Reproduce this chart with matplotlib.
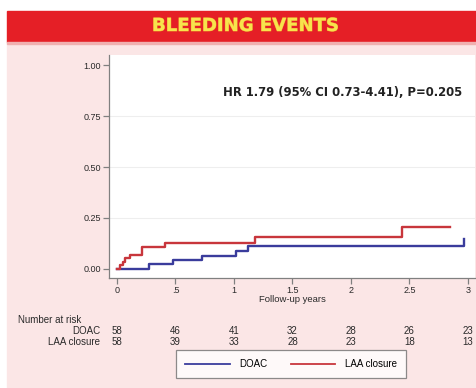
import matplotlib.pyplot as plt
import matplotlib.patheffects as pe
from matplotlib.patches import Rectangle
from matplotlib.lines import Line2D
from matplotlib.transforms import blended_transform_factory

# Kaplan-Meier style cumulative incidence
doac_t = [0, 0.27, 0.48, 0.73, 1.02, 1.12, 2.97]
doac_y = [0, 0.022, 0.044, 0.065, 0.088, 0.112, 0.145]
laa_t = [0, 0.03, 0.05, 0.07, 0.11, 0.21, 0.41, 1.18, 2.44, 2.85]
laa_y = [0, 0.018, 0.035, 0.052, 0.07, 0.105, 0.128, 0.157, 0.203, 0.203]

risk_times = [0, 0.5, 1, 1.5, 2, 2.5, 3]
risk_doac = [58, 46, 41, 32, 28, 26, 23]
risk_laa = [58, 39, 33, 28, 23, 18, 13]

xticks = [0, 0.5, 1, 1.5, 2, 2.5, 3]
xtick_labels = ["0", ".5", "1", "1.5", "2", "2.5", "3"]
yticks = [0, 0.25, 0.5, 0.75, 1.0]
ytick_labels = ["0.00", "0.25", "0.50", "0.75", "1.00"]

blue = "#3a3c9c"
red = "#c8363c"
pink = "#fbe6e6"
txt = "#2a2a2a"

W, H = 477, 388
fig = plt.figure(figsize=(W / 100, H / 100), dpi=100)
fig.patch.set_facecolor("white")

# pink panel and red banner
fig.patches.append(Rectangle((7 / W, 0), 468 / W, 1 - 42 / H,
                             transform=fig.transFigure, color=pink, zorder=-3))
fig.patches.append(Rectangle((7 / W, 1 - 42 / H), 470 / W, 31 / H,
                             transform=fig.transFigure, color="#e51f26", zorder=-2))
fig.patches.append(Rectangle((7 / W, 1 - 44 / H), 470 / W, 2 / H,
                             transform=fig.transFigure, color="#f0b0b0", zorder=-2))
title = fig.text(245 / W, 1 - 26 / H, "BLEEDING EVENTS", ha="center", va="center",
                 fontsize=13, fontweight="bold", color="#f7e44c", family="DejaVu Sans")
title.set_path_effects([pe.withStroke(linewidth=0.6, foreground="#eea030")])

ax = fig.add_axes([109 / W, 1 - 278 / H, 366 / W, 223 / H])
ax.set_zorder(2)
ax.set_facecolor("white")

ax.step(doac_t, doac_y, where="post", color=blue, lw=1.7)
ax.step(laa_t, laa_y, where="post", color=red, lw=1.7)

ax.set_xlim(-0.068, 3.06)
ax.set_ylim(-0.045, 1.05)
ax.set_xticks(xticks)
ax.set_xticklabels(xtick_labels)
ax.set_yticks(yticks)
ax.set_yticklabels(ytick_labels)
for y in [0.25, 0.5, 0.75]:
    ax.axhline(y, color="#eeeeee", lw=0.8, zorder=0)

for s in ["top", "right"]:
    ax.spines[s].set_visible(False)
for s in ["left", "bottom"]:
    ax.spines[s].set_color("#808080")
    ax.spines[s].set_linewidth(0.9)
ax.tick_params(colors="#808080", labelcolor=txt, labelsize=6.5, length=4, width=0.9, pad=2)
for lab in ax.get_xticklabels() + ax.get_yticklabels():
    lab.set_family("Liberation Sans")

ax.set_xlabel("Follow-up years", fontsize=6.8, color=txt, family="Liberation Sans", labelpad=0)

ax.text(0.964, 0.834, "HR 1.79 (95% CI 0.73-4.41), P=0.205", transform=ax.transAxes,
        ha="right", va="center", fontsize=8.4, fontweight="bold", color="#222222",
        family="DejaVu Sans")

# number at risk table
tr = blended_transform_factory(ax.transData, fig.transFigure)
fig.text(18 / W, 1 - 320 / H, "Number at risk", fontsize=7, color=txt,
         family="Liberation Sans", va="center")
fig.text(100 / W, 1 - 331 / H, "DOAC", fontsize=7, color=txt,
         family="Liberation Sans", va="center", ha="right")
fig.text(100 / W, 1 - 342 / H, "LAA closure", fontsize=7, color=txt,
         family="Liberation Sans", va="center", ha="right")
for i in range(len(risk_times)):
    ax.text(risk_times[i], 1 - 331 / H, str(risk_doac[i]), transform=tr,
            fontsize=7, color=txt, family="Liberation Sans", va="center", ha="center")
    ax.text(risk_times[i], 1 - 342 / H, str(risk_laa[i]), transform=tr,
            fontsize=7, color=txt, family="Liberation Sans", va="center", ha="center")

handles = [Line2D([], [], color=blue, lw=1.3), Line2D([], [], color=red, lw=1.3)]
leg = fig.legend(handles, ["DOAC", "LAA closure"], loc="center",
                 bbox_to_anchor=(291 / W, 1 - 364 / H), ncol=2, frameon=True,
                 fancybox=False, edgecolor="#707070", borderaxespad=0,
                 handlelength=4.6, handletextpad=1.0, columnspacing=2.4, borderpad=0.9,
                 prop={"family": "Liberation Sans", "size": 7})
leg.get_frame().set_linewidth(0.9)

fig.savefig("out.png", dpi=100)
